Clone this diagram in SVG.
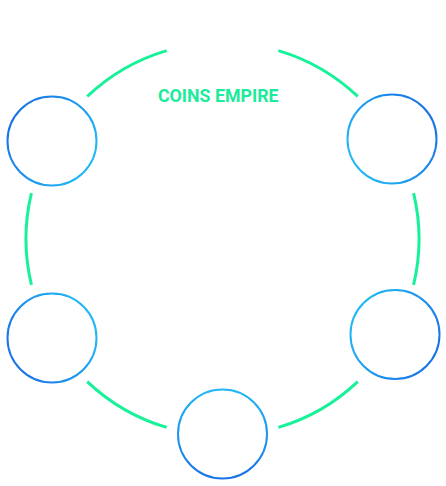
<svg xmlns="http://www.w3.org/2000/svg" width="446" height="486" viewBox="0 0 446 486">
  <style>
    .arc { fill: none; stroke: #17f29a; stroke-width: 3; stroke-linecap: butt; }
    .node { fill: #ffffff; stroke-width: 2; }
    .title { font-family: Roboto, "Liberation Sans", sans-serif; font-weight: 700; font-size: 17.8px; fill: #1ceb9b; }
  </style>
  <defs>
    <linearGradient id="g1" gradientUnits="userSpaceOnUse" x1="90.5" y1="163" x2="13.5" y2="119">
      <stop offset="0" stop-color="#22b8f6"/><stop offset="1" stop-color="#1a74e6"/>
    </linearGradient>
    <linearGradient id="g2" gradientUnits="userSpaceOnUse" x1="353.5" y1="161" x2="430.5" y2="117">
      <stop offset="0" stop-color="#22b8f6"/><stop offset="1" stop-color="#1a74e6"/>
    </linearGradient>
    <linearGradient id="g3" gradientUnits="userSpaceOnUse" x1="90.5" y1="316" x2="13.5" y2="360">
      <stop offset="0" stop-color="#22b8f6"/><stop offset="1" stop-color="#1a74e6"/>
    </linearGradient>
    <linearGradient id="g4" gradientUnits="userSpaceOnUse" x1="356.5" y1="312.5" x2="433.5" y2="356.5">
      <stop offset="0" stop-color="#22b8f6"/><stop offset="1" stop-color="#1a74e6"/>
    </linearGradient>
    <linearGradient id="g5" gradientUnits="userSpaceOnUse" x1="222.5" y1="390" x2="222.5" y2="478">
      <stop offset="0" stop-color="#22b8f6"/><stop offset="1" stop-color="#1a74e6"/>
    </linearGradient>
  </defs>
  <g id="connectors">
    <path class="arc" d="M87.23,96.46 A196.5,196.5 0 0 1 166.69,50.60"/>
    <path class="arc" d="M278.31,50.60 A196.5,196.5 0 0 1 357.77,96.46"/>
    <path class="arc" d="M413.58,193.14 A196.5,196.5 0 0 1 413.58,284.86"/>
    <path class="arc" d="M357.77,381.54 A196.5,196.5 0 0 1 278.31,427.40"/>
    <path class="arc" d="M166.69,427.40 A196.5,196.5 0 0 1 87.23,381.54"/>
    <path class="arc" d="M31.42,284.86 A196.5,196.5 0 0 1 31.42,193.14"/>
  </g>
  <g id="title">
    <text class="title" x="218.3" y="101.7" text-anchor="middle">COINS EMPIRE</text>
  </g>
  <g id="node-top-left"><circle class="node" cx="52" cy="141" r="44.5" stroke="url(#g1)"/></g>
  <g id="node-top-right"><circle class="node" cx="392" cy="139" r="44.5" stroke="url(#g2)"/></g>
  <g id="node-bottom-left"><circle class="node" cx="52" cy="338" r="44.5" stroke="url(#g3)"/></g>
  <g id="node-bottom-right"><circle class="node" cx="395" cy="334.5" r="44.5" stroke="url(#g4)"/></g>
  <g id="node-bottom"><circle class="node" cx="222.5" cy="434" r="44.5" stroke="url(#g5)"/></g>
</svg>
